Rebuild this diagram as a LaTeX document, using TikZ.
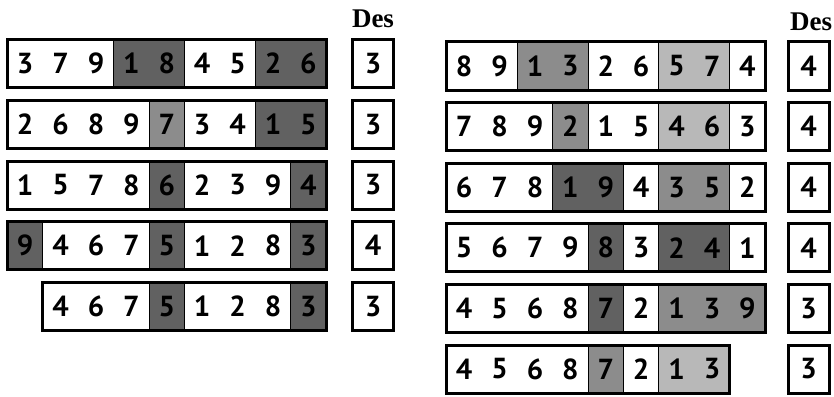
\documentclass[tikz,border=0pt]{standalone}
\usepackage{fontspec}
\setmainfont{Liberation Serif}
\newfontfamily\digitfont{PT Sans}
\usepackage{tikz}
\definecolor{shadedark}{gray}{0.38}
\definecolor{shademid}{gray}{0.55}
\definecolor{shadelight}{gray}{0.72}
\newcommand{\slotw}{35.4}

\begin{document}
\begin{tikzpicture}[x=1pt, y=-1pt,
    rowbar/.style={draw, line width=3pt},
    dark/.style={fill=shadedark, draw, line width=1pt},
    mid/.style={fill=shademid, draw, line width=1pt},
    light/.style={fill=shadelight, draw, line width=1pt},
    digit/.style={font=\digitfont\bfseries\fontsize{29}{29}\selectfont, inner sep=0pt},
    desbox/.style={draw, line width=3pt, minimum width=41pt, minimum height=48pt,
        inner sep=0pt, font=\digitfont\bfseries\fontsize{29}{29}\selectfont},
    deslabel/.style={font=\bfseries\fontsize{27}{27}\selectfont, inner sep=0pt}]
  \useasboundingbox (0,0) rectangle (834,396);

  % left column
  \node[deslabel] (ldes) at (373,19) {Des};

  \begin{scope}[shift={(7.5,63.5)}]
    \filldraw[dark] (3*\slotw,-24) rectangle (5*\slotw,24);
    \filldraw[dark] (7*\slotw,-24) rectangle (9*\slotw,24);
    \foreach \d [count=\i from 0] in {3,7,9,1,8,4,5,2,6}
      \node[digit] (l1-\i) at ({(\i+.5)*\slotw},0) {\d};
    \draw[rowbar] (0,-24) rectangle (9*\slotw,24);
  \end{scope}
  \node[desbox] (ld1) at (373,63.5) {3};

  \begin{scope}[shift={(7.5,124.25)}]
    \filldraw[mid] (4*\slotw,-24) rectangle (5*\slotw,24);
    \filldraw[dark] (7*\slotw,-24) rectangle (9*\slotw,24);
    \foreach \d [count=\i from 0] in {2,6,8,9,7,3,4,1,5}
      \node[digit] (l2-\i) at ({(\i+.5)*\slotw},0) {\d};
    \draw[rowbar] (0,-24) rectangle (9*\slotw,24);
  \end{scope}
  \node[desbox] (ld2) at (373,124.25) {3};

  \begin{scope}[shift={(7.5,185)}]
    \filldraw[dark] (4*\slotw,-24) rectangle (5*\slotw,24);
    \filldraw[dark] (8*\slotw,-24) rectangle (9*\slotw,24);
    \foreach \d [count=\i from 0] in {1,5,7,8,6,2,3,9,4}
      \node[digit] (l3-\i) at ({(\i+.5)*\slotw},0) {\d};
    \draw[rowbar] (0,-24) rectangle (9*\slotw,24);
  \end{scope}
  \node[desbox] (ld3) at (373,185) {3};

  \begin{scope}[shift={(7.5,245.75)}]
    \filldraw[dark] (0,-24) rectangle (1*\slotw,24);
    \filldraw[dark] (4*\slotw,-24) rectangle (5*\slotw,24);
    \filldraw[dark] (8*\slotw,-24) rectangle (9*\slotw,24);
    \foreach \d [count=\i from 0] in {9,4,6,7,5,1,2,8,3}
      \node[digit] (l4-\i) at ({(\i+.5)*\slotw},0) {\d};
    \draw[rowbar] (0,-24) rectangle (9*\slotw,24);
  \end{scope}
  \node[desbox] (ld4) at (373,245.75) {4};

  \begin{scope}[shift={(7.5,306.5)}]
    \filldraw[dark] (4*\slotw,-24) rectangle (5*\slotw,24);
    \filldraw[dark] (8*\slotw,-24) rectangle (9*\slotw,24);
    \foreach \d [count=\i from 1] in {4,6,7,5,1,2,8,3}
      \node[digit] (l5-\i) at ({(\i+.5)*\slotw},0) {\d};
    \draw[rowbar] (\slotw,-24) rectangle (9*\slotw,24);
  \end{scope}
  \node[desbox] (ld5) at (373,306.5) {3};

  % right column
  \node[deslabel] (rdes) at (811,22) {Des};

  \begin{scope}[shift={(446.5,66)}]
    \filldraw[mid] (2*\slotw,-24) rectangle (4*\slotw,24);
    \filldraw[light] (6*\slotw,-24) rectangle (8*\slotw,24);
    \foreach \d [count=\i from 0] in {8,9,1,3,2,6,5,7,4}
      \node[digit] (r1-\i) at ({(\i+.5)*\slotw},0) {\d};
    \draw[rowbar] (0,-24) rectangle (9*\slotw,24);
  \end{scope}
  \node[desbox] (rd1) at (808.5,66) {4};

  \begin{scope}[shift={(446.5,126.6)}]
    \filldraw[mid] (3*\slotw,-24) rectangle (4*\slotw,24);
    \filldraw[light] (6*\slotw,-24) rectangle (8*\slotw,24);
    \foreach \d [count=\i from 0] in {7,8,9,2,1,5,4,6,3}
      \node[digit] (r2-\i) at ({(\i+.5)*\slotw},0) {\d};
    \draw[rowbar] (0,-24) rectangle (9*\slotw,24);
  \end{scope}
  \node[desbox] (rd2) at (808.5,126.6) {4};

  \begin{scope}[shift={(446.5,187.2)}]
    \filldraw[dark] (3*\slotw,-24) rectangle (5*\slotw,24);
    \filldraw[mid] (6*\slotw,-24) rectangle (8*\slotw,24);
    \foreach \d [count=\i from 0] in {6,7,8,1,9,4,3,5,2}
      \node[digit] (r3-\i) at ({(\i+.5)*\slotw},0) {\d};
    \draw[rowbar] (0,-24) rectangle (9*\slotw,24);
  \end{scope}
  \node[desbox] (rd3) at (808.5,187.2) {4};

  \begin{scope}[shift={(446.5,247.8)}]
    \filldraw[dark] (4*\slotw,-24) rectangle (5*\slotw,24);
    \filldraw[dark] (6*\slotw,-24) rectangle (8*\slotw,24);
    \foreach \d [count=\i from 0] in {5,6,7,9,8,3,2,4,1}
      \node[digit] (r4-\i) at ({(\i+.5)*\slotw},0) {\d};
    \draw[rowbar] (0,-24) rectangle (9*\slotw,24);
  \end{scope}
  \node[desbox] (rd4) at (808.5,247.8) {4};

  \begin{scope}[shift={(446.5,308.4)}]
    \filldraw[dark] (4*\slotw,-24) rectangle (5*\slotw,24);
    \filldraw[mid] (6*\slotw,-24) rectangle (9*\slotw,24);
    \foreach \d [count=\i from 0] in {4,5,6,8,7,2,1,3,9}
      \node[digit] (r5-\i) at ({(\i+.5)*\slotw},0) {\d};
    \draw[rowbar] (0,-24) rectangle (9*\slotw,24);
  \end{scope}
  \node[desbox] (rd5) at (808.5,308.4) {3};

  \begin{scope}[shift={(446.5,369)}]
    \filldraw[mid] (4*\slotw,-24) rectangle (5*\slotw,24);
    \filldraw[light] (6*\slotw,-24) rectangle (8*\slotw,24);
    \foreach \d [count=\i from 0] in {4,5,6,8,7,2,1,3}
      \node[digit] (r6-\i) at ({(\i+.5)*\slotw},0) {\d};
    \draw[rowbar] (0,-24) rectangle (8*\slotw,24);
  \end{scope}
  \node[desbox] (rd6) at (808.5,369) {3};
\end{tikzpicture}
\end{document}
